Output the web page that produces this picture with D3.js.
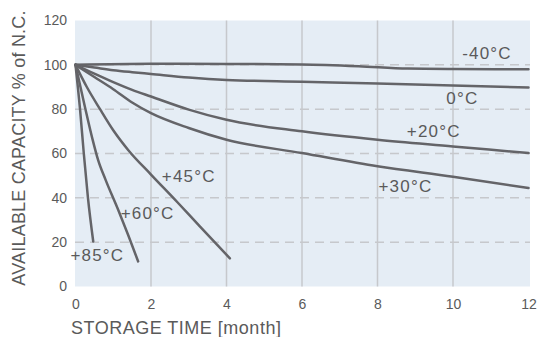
<!DOCTYPE html>
<html>
<head>
<meta charset="utf-8">
<script src="https://cdn.jsdelivr.net/npm/d3@7"></script>
<style>
  body { margin: 0; background: #fff; }
  svg text { font-family: "Liberation Sans", Arial, Helvetica, sans-serif; fill: #5a5a5a; }
</style>
</head>
<body>
<div id="chart"></div>
<script>
// storage time in months, capacity in % of N.C.
const m40 = [[0, 100], [2, 100.5], [4, 100.4], [6, 100.2], [7.5, 99.4], [8.8, 98.3], [10, 98.1], [12, 98]];
const m0 = [[0, 100], [0.5, 98.8], [1, 97.6], [1.5, 96.7], [2, 95.9], [3, 94.3], [4, 93.2], [6, 92.4], [8, 91.6], [10, 90.7], [12, 89.8]];
const p20 = [[0, 100], [0.5, 96], [1, 92.2], [1.5, 88.7], [2, 85.7], [3, 79.8], [4, 75.2], [6, 70], [8, 66.2], [10, 63.2], [12, 60.2]];
const p30 = [[0, 100], [0.5, 94.5], [1, 89], [1.5, 83], [2, 78.2], [3, 71.5], [4, 66.2], [6, 60.2], [8, 54.2], [10, 49.5], [12, 44.4]];
const p45 = [[0, 100], [0.3, 90], [0.65, 80], [1, 70.5], [1.4, 61.5], [2, 50.5], [2.7, 38], [3.3, 27], [4.09, 12.7]];
const p60 = [[0, 100], [0.25, 81], [0.45, 66.5], [0.6, 57], [0.8, 48], [1.13, 34.6], [1.4, 23], [1.66, 11.3]];
const p85 = [[0, 100], [0.12, 80], [0.22, 60], [0.33, 40], [0.47, 20.3]];

const series = [m40, m0, p20, p30, p45, p60, p85];

// curve labels: text, month, capacity (label centre)
const labelText = ["-40\u00b0C", "0\u00b0C", "+20\u00b0C", "+30\u00b0C", "+45\u00b0C", "+60\u00b0C", "+85\u00b0C"];
const labelX = [10.9, 10.25, 9.49, 8.74, 3.0, 1.91, 0.58];
const labelY = [105.3, 84.6, 69.8, 45.0, 49.5, 33.0, 14.2];

const xTicks = [0, 2, 4, 6, 8, 10, 12];
const yTicks = [0, 20, 40, 60, 80, 100, 120];

const width = 538, height = 337;
const margin = { top: 20.5, right: 8, bottom: 50.5, left: 75 };

const svg = d3.select("#chart").append("svg")
  .attr("width", width)
  .attr("height", height);

const x = d3.scaleLinear().domain([0, 12]).range([75.5, 528.5]);
const y = d3.scaleLinear().domain([0, 120]).range([height - margin.bottom, margin.top]);

// plot background
svg.append("rect")
  .attr("x", margin.left)
  .attr("y", margin.top)
  .attr("width", width - margin.right - margin.left)
  .attr("height", height - margin.bottom - margin.top)
  .attr("fill", "#e5edf5");

// vertical grid
svg.append("g").selectAll("line")
  .data(xTicks.filter(d => d > 0 && d < 12))
  .join("line")
  .attr("x1", d => x(d)).attr("x2", d => x(d))
  .attr("y1", margin.top).attr("y2", height - margin.bottom)
  .attr("stroke", "#c6c8cc")
  .attr("stroke-width", 1.5);

// horizontal dashed grid
svg.append("g").selectAll("line")
  .data(yTicks.filter(d => d > 0 && d < 120))
  .join("line")
  .attr("x1", margin.left).attr("x2", width - margin.right)
  .attr("y1", d => y(d)).attr("y2", d => y(d))
  .attr("stroke", "#c6c8cc")
  .attr("stroke-width", 1.5)
  .attr("stroke-dasharray", "9,6");

// axes text only
const xAxis = svg.append("g")
  .attr("transform", `translate(0,${height - margin.bottom})`)
  .call(d3.axisBottom(x).tickValues(xTicks).tickSize(0).tickPadding(13));
xAxis.select(".domain").remove();
xAxis.selectAll("text").attr("font-size", 14).style("fill", "#5a5a5a");

const yAxis = svg.append("g")
  .attr("transform", `translate(${margin.left},0)`)
  .call(d3.axisLeft(y).tickValues(yTicks).tickSize(0).tickPadding(8));
yAxis.select(".domain").remove();
yAxis.selectAll("text").attr("font-size", 14).style("fill", "#5a5a5a");

// lines
const line = d3.line()
  .x(d => x(d[0]))
  .y(d => y(d[1]))
  .curve(d3.curveMonotoneX);

svg.append("g").selectAll("path")
  .data(series)
  .join("path")
  .attr("d", line)
  .attr("fill", "none")
  .attr("stroke", "#646468")
  .attr("stroke-width", 2.5)
  .attr("stroke-linecap", "round")
  .attr("stroke-linejoin", "round");

// curve labels
svg.append("g").selectAll("text")
  .data(labelText)
  .join("text")
  .attr("x", (d, i) => x(labelX[i]))
  .attr("y", (d, i) => y(labelY[i]))
  .attr("text-anchor", "middle")
  .attr("dominant-baseline", "central")
  .attr("font-size", 17)
  .attr("letter-spacing", 1.2)
  .text(d => d);

// axis titles
svg.append("text")
  .attr("x", 71)
  .attr("y", 334)
  .attr("font-size", 18)
  .attr("letter-spacing", 0.5)
  .text("STORAGE TIME [month]");

svg.append("text")
  .attr("transform", "translate(25,148) rotate(-90)")
  .attr("text-anchor", "middle")
  .attr("font-size", 18)
  .attr("letter-spacing", 0.2)
  .text("AVAILABLE CAPACITY % of N.C.");
</script>
</body>
</html>
